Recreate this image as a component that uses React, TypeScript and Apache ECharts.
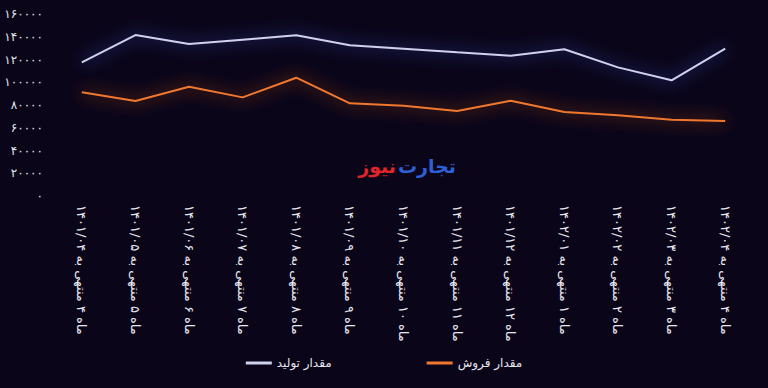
import React, { useEffect, useRef } from "react";
import * as echarts from "echarts";

const categories = [
  "ماه ۴ منتهی به ۱۴۰۱/۰۴",
  "ماه ۵ منتهی به ۱۴۰۱/۰۵",
  "ماه ۶ منتهی به ۱۴۰۱/۰۶",
  "ماه ۷ منتهی به ۱۴۰۱/۰۷",
  "ماه ۸ منتهی به ۱۴۰۱/۰۸",
  "ماه ۹ منتهی به ۱۴۰۱/۰۹",
  "ماه ۱۰ منتهی به ۱۴۰۱/۱۰",
  "ماه ۱۱ منتهی به ۱۴۰۱/۱۱",
  "ماه ۱۲ منتهی به ۱۴۰۱/۱۲",
  "ماه ۱ منتهی به ۱۴۰۲/۰۱",
  "ماه ۲ منتهی به ۱۴۰۲/۰۲",
  "ماه ۳ منتهی به ۱۴۰۲/۰۳",
  "ماه ۴ منتهی به ۱۴۰۲/۰۴",
];

const productionName = "مقدار تولید";
const salesName = "مقدار فروش";

const production = [117500, 141500, 133600, 137400, 141300, 132500, 129500, 126300, 123300, 129000, 113100, 101700, 129500];
const sales = [91200, 83500, 96100, 86700, 104000, 81500, 79400, 74700, 83800, 73800, 70900, 67100, 65900];

const yMin = 0;
const yMax = 160000;
const yInterval = 20000;

const persianDigits = "۰۱۲۳۴۵۶۷۸۹";
const toPersian = (v: number | string) =>
  String(v).replace(/[0-9]/g, (d) => persianDigits[Number(d)]);

const FONT = "'DejaVu Sans', 'Noto Sans', sans-serif";

export default function App() {
  const ref = useRef<HTMLDivElement>(null);
  useEffect(() => {
    if (!ref.current) return;
    const chart = echarts.init(ref.current, undefined, { renderer: "svg" });
    chart.setOption({
      animation: false,
      backgroundColor: "#0a0519",
      grid: { left: 55, right: 16, top: 14, bottom: 192 },
      legend: {
        bottom: 14,
        left: "center",
        itemGap: 95,
        itemWidth: 26,
        itemHeight: 3,
        icon: "rect",
        textStyle: { color: "#e6e6ee", fontSize: 12, fontFamily: FONT },
        data: [productionName, salesName],
      },
      xAxis: {
        type: "category",
        data: categories,
        boundaryGap: true,
        axisLine: { show: false },
        axisTick: { show: false },
        axisLabel: {
          rotate: -90,
          interval: 0,
          margin: 9,
          color: "#e6e6ee",
          fontSize: 13,
          fontFamily: FONT,
        },
      },
      yAxis: {
        type: "value",
        min: yMin,
        max: yMax,
        interval: yInterval,
        splitLine: { show: false },
        axisLine: { show: false },
        axisTick: { show: false },
        axisLabel: {
          margin: 12,
          color: "#e6e6ee",
          fontSize: 12,
          fontFamily: FONT,
          formatter: (v: number) => toPersian(v),
        },
      },
      series: [
        {
          name: productionName,
          type: "line",
          data: production,
          showSymbol: false,
          symbol: "none",
          color: "#cfd2ee",
          lineStyle: {
            color: "#cfd2ee",
            width: 2,
            shadowBlur: 16,
            shadowColor: "rgba(70,100,255,1)",
          },
        },
        {
          name: salesName,
          type: "line",
          data: sales,
          showSymbol: false,
          symbol: "none",
          color: "#f0782f",
          lineStyle: {
            color: "#f0782f",
            width: 2,
            shadowBlur: 16,
            shadowColor: "rgba(255,100,20,1)",
          },
        },
      ],
      graphic: [
        {
          type: "text",
          x: 456,
          y: 166,
          style: {
            text: "تجارت",
            fill: "#2f5fd8",
            font: `bold 19px ${FONT}`,
            textAlign: "right",
            textVerticalAlign: "middle",
          },
        },
        {
          type: "text",
          x: 396,
          y: 166,
          style: {
            text: "نیوز",
            fill: "#e0262b",
            font: `bold 19px ${FONT}`,
            textAlign: "right",
            textVerticalAlign: "middle",
          },
        },
      ],
    });
    return () => chart.dispose();
  }, []);
  return (
    <div
      ref={ref}
      style={{ position: "fixed", left: 0, top: 0, width: 768, height: 388 }}
    />
  );
}
